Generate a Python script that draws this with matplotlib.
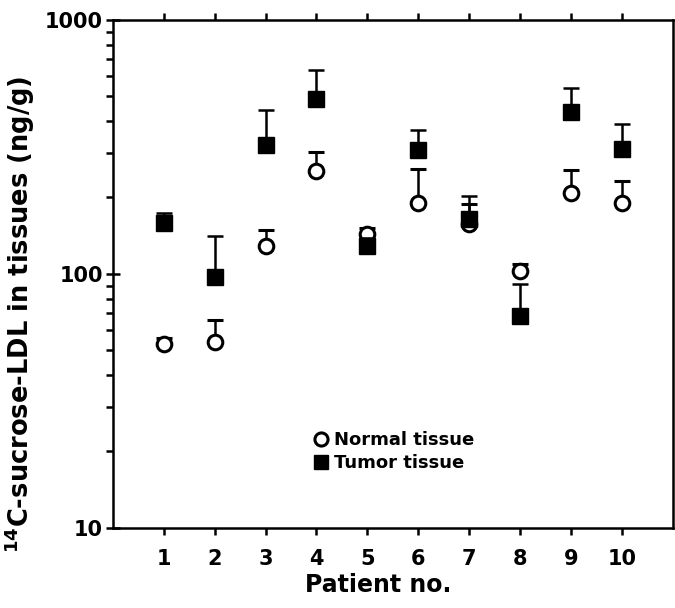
import numpy as np
import matplotlib
matplotlib.use("Agg")
import matplotlib.pyplot as plt
from matplotlib.ticker import FixedLocator, NullFormatter

# values (ng/g); upper ends of the error bars
patients = np.arange(1, 11)
normal = [53, 54, 129, 255, 144, 191, 157, 103, 208, 191]
normal_upper = [56, 66, 149, 302, 152, 259, 188, 109, 257, 233]
tumor = [158, 97, 323, 490, 129, 308, 165, 68, 434, 311]
tumor_upper = [173, 141, 441, 635, 138, 370, 202, 91, 539, 391]

plt.rcParams["font.family"] = "DejaVu Sans"
plt.rcParams["font.weight"] = "bold"
plt.rcParams["axes.labelweight"] = "bold"
plt.rcParams["mathtext.default"] = "regular"

fig = plt.figure(figsize=(6.75, 6.08), dpi=100)
ax = fig.add_axes([0.167, 0.132, 0.83, 0.835])

lw = 1.8
err_n = [np.zeros(10), np.array(normal_upper) - np.array(normal)]
err_t = [np.zeros(10), np.array(tumor_upper) - np.array(tumor)]

ax.errorbar(patients, normal, yerr=err_n, fmt="o", color="black", mfc="white",
            mec="black", mew=2.2, ms=10.5, elinewidth=lw, capsize=6, capthick=lw,
            label="Normal tissue", zorder=3)
ax.errorbar(patients, tumor, yerr=err_t, fmt="s", color="black", ms=11.5,
            elinewidth=lw, capsize=6, capthick=lw, label="Tumor tissue", zorder=4)

ax.set_yscale("log")
ax.set_ylim(10, 1000)
ax.set_xlim(0, 11)
ax.set_xticks(patients)
ax.set_yticks([10, 100, 1000])
ax.set_yticklabels(["10", "100", "1000"])
minor = [m * d for d in (10, 100) for m in range(2, 10)]
ax.yaxis.set_minor_locator(FixedLocator(minor))
ax.yaxis.set_minor_formatter(NullFormatter())

for s in ax.spines.values():
    s.set_linewidth(lw)

ax.tick_params(axis="x", which="major", direction="out", length=5, width=lw,
               top=True, labelsize=15, pad=10)
ax.tick_params(axis="y", which="major", direction="inout", length=10, width=lw,
               labelsize=15, pad=2)
ax.tick_params(axis="y", which="minor", direction="out", length=5, width=lw,
               left=True)

ax.set_xlabel("Patient no.", fontsize=17)
ax.xaxis.set_label_coords(0.473, -0.09)
ax.set_ylabel("$^{14}$C-sucrose-LDL in tissues (ng/g)", fontsize=18.5)
ax.yaxis.set_label_coords(-0.135, 0.42)

handles, labels = ax.get_legend_handles_labels()
handles = [h[0] for h in handles]
ax.legend(handles, labels, loc="center", bbox_to_anchor=(0.50, 0.15),
          frameon=False, fontsize=13, handletextpad=0.2, handlelength=1.0,
          labelspacing=0.3, markerscale=0.9)

fig.savefig("out.png", dpi=100)
